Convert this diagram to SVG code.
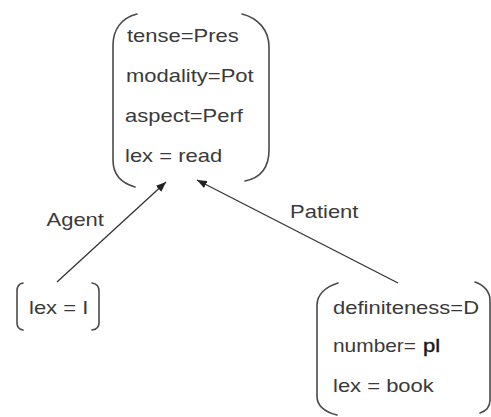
<svg xmlns="http://www.w3.org/2000/svg" width="491" height="417" viewBox="0 0 491 417">
<style>
text { font-family: "Liberation Sans", Arial, sans-serif; font-size: 22px; fill: #3a3a3a; }
.br { fill: none; stroke: #4a4a4a; stroke-width: 1.6; stroke-linecap: round; }
.edge { fill: none; stroke: #333; stroke-width: 1.3; }
.dark { fill: #1a1a1a; stroke: #1a1a1a; stroke-width: 0.5; }
</style>
<defs>
<marker id="ah" viewBox="0 0 10 8" refX="10" refY="4" markerWidth="10" markerHeight="8" markerUnits="userSpaceOnUse" orient="auto">
<path d="M0,0 L10,4 L0,8 Z" fill="#222"/>
</marker>
</defs>
<rect width="491" height="417" fill="#fff"/>
<g id="connectors">
<line class="edge" x1="57" y1="282" x2="166" y2="182" marker-end="url(#ah)"/>
<line class="edge" x1="398" y1="283" x2="197" y2="180" marker-end="url(#ah)"/>
<text transform="translate(46.5,226) scale(1,0.86)">Agent</text>
<text transform="translate(290,218) scale(1,0.86)">Patient</text>
</g>
<g id="node-read">
<path class="br" d="M137,14 C121,18 113,30 113,45 L113,160 C113,175 121,183 135,187"/>
<path class="br" d="M242,14 C258,18 269,30 269,47 L269,150 C269,168 260,178 245,181"/>
<text transform="translate(127,41.5) scale(1,0.86)">tense=Pres</text>
<text transform="translate(126,81.5) scale(1,0.86)">modality=Pot</text>
<text transform="translate(125,122) scale(1,0.86)">aspect=Perf</text>
<text transform="translate(125,162) scale(1,0.86)">lex = read</text>
</g>
<g id="node-i">
<path class="br" d="M23,283 Q17,284 17,291 L17,323 Q17,329 23,330"/>
<path class="br" d="M92,283 Q99,284 99,291 L99,323 Q99,329 92,330"/>
<text transform="translate(29,314) scale(1,0.86)">lex = I</text>
</g>
<g id="node-book">
<path class="br" d="M338,283 C325,287 317,295 317,305 L317,396 C317,406 325,412 337,415"/>
<path class="br" d="M475,282 C484,285 490,292 490,300 L490,400 C490,407 486,411 480,413"/>
<text transform="translate(333,313.5) scale(1,0.86)">definiteness=D</text>
<text transform="translate(333,352) scale(0.95,0.86)">number=</text>
<text class="dark" transform="translate(423,352) scale(1,0.86)">pl</text>
<text transform="translate(333,392) scale(1,0.86)">lex = book</text>
</g>
</svg>
